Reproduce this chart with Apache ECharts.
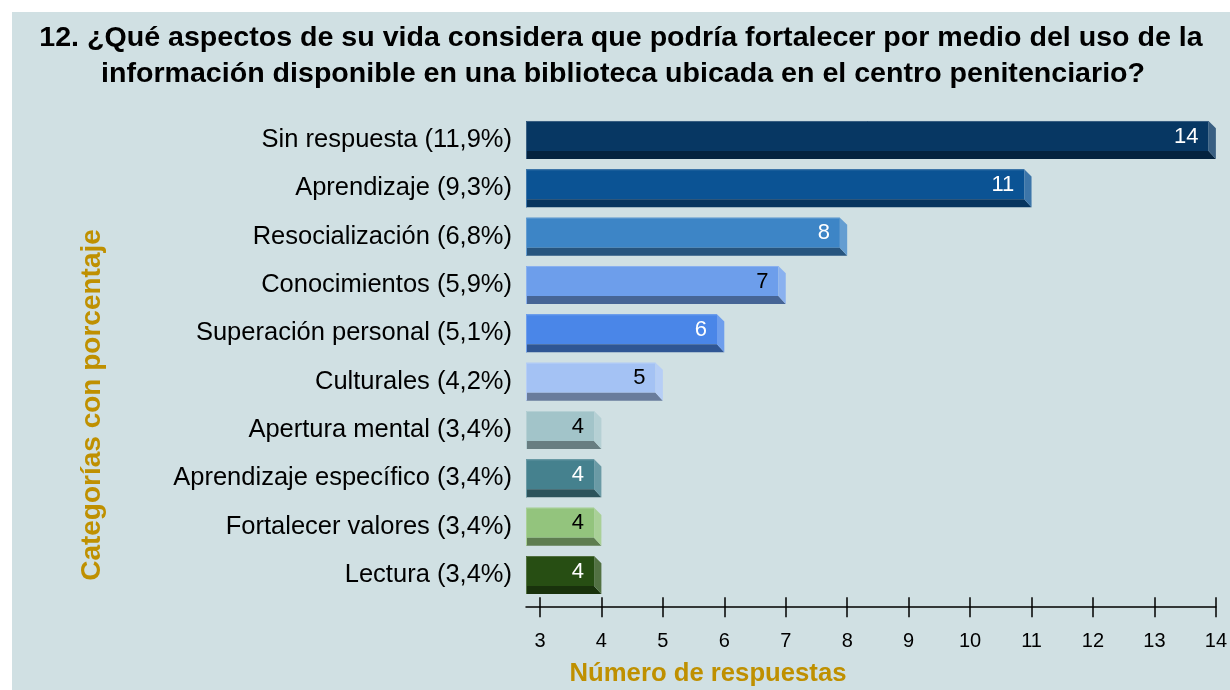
<!DOCTYPE html>
<html>
<head>
<meta charset="utf-8">
<script src="https://cdn.jsdelivr.net/npm/echarts@6/dist/echarts.min.js"></script>
<style>
  html, body { margin: 0; padding: 0; background: #ffffff; }
  #chart { position: absolute; left: 12px; top: 12px; width: 1218px; height: 678px; }
</style>
</head>
<body>
<div id="chart"></div>
<script>
// ---- data ----
const categories = [
  'Sin respuesta (11,9%)',
  'Aprendizaje (9,3%)',
  'Resocialización (6,8%)',
  'Conocimientos (5,9%)',
  'Superación personal (5,1%)',
  'Culturales (4,2%)',
  'Apertura mental (3,4%)',
  'Aprendizaje específico (3,4%)',
  'Fortalecer valores (3,4%)',
  'Lectura (3,4%)'
];
const values = [14, 11, 8, 7, 6, 5, 4, 4, 4, 4];
const xTicks = [3, 4, 5, 6, 7, 8, 9, 10, 11, 12, 13, 14];
const titleLines = [
  '12. ¿Qué aspectos de su vida considera que podría fortalecer por medio del uso de la',
  'información disponible en una biblioteca ubicada en el centro penitenciario?'
];
const xTitle = 'Número de respuestas';
const yTitle = 'Categorías con porcentaje';

// ---- styles ----
const palette = ['#073763', '#0b5394', '#3d85c6', '#6d9eeb', '#4a86e8', '#a4c2f4', '#a2c4c9', '#45818e', '#93c47d', '#274e13'];
const labelColors = ['#fff', '#fff', '#fff', '#000', '#fff', '#000', '#000', '#fff', '#000', '#fff'];
const FONT = "'Liberation Sans', Arial, sans-serif";
const X_MIN = 2.773, X_MAX = 14;

function hexToRgb(h) { h = h.replace('#', ''); return [0, 2, 4].map(i => parseInt(h.substr(i, 2), 16)); }
function rgb(a) { return 'rgb(' + a.map(v => Math.round(v)).join(',') + ')'; }
function darker(h) { return rgb(hexToRgb(h).map(v => v * 0.64)); }
function lighter(h) { return rgb(hexToRgb(h).map(v => v + (255 - v) * 0.2)); }

function renderItem(params, api) {
  const i = params.dataIndex;
  const end = api.coord([api.value(0), api.value(1)]);
  const base = api.coord([X_MIN, api.value(1)]);
  const band = api.size([0, 1])[1];
  const h = band * 0.786;
  const dx = 7.3, dy = 8;
  const x0 = base[0], x2 = end[0], x1 = x2 - dx;
  const yt = end[1] - h / 2, yb = end[1] + h / 2, yf = yb - dy;
  const c = palette[i % palette.length];
  return {
    type: 'group',
    children: [
      { type: 'rect', shape: { x: x0, y: yt, width: x1 - x0, height: yf - yt }, style: { fill: c } },
      { type: 'polygon', shape: { points: [[x0, yf], [x1, yf], [x2, yb], [x0, yb]] }, style: { fill: darker(c) } },
      { type: 'polygon', shape: { points: [[x1, yt], [x2, yt + dy * 0.9], [x2, yb], [x1, yf]] }, style: { fill: lighter(c) } },
      { type: 'polyline', shape: { points: [[x0 + 0.5, yb], [x0 + 0.5, yt + 0.5], [x1, yt + 0.5]] }, style: { stroke: lighter(c), lineWidth: 1, fill: null } },
      { type: 'text', x: x1 - 10, y: (yt + yf) / 2 + 0.5,
        style: { text: String(api.value(0)), align: 'right', verticalAlign: 'middle', fill: labelColors[i], font: '22px ' + FONT } }
    ]
  };
}

const chart = echarts.init(document.getElementById('chart'), null, { renderer: 'canvas' });
const axisCommon = { type: 'value', min: X_MIN, max: X_MAX, position: 'bottom', offset: 8, splitLine: { show: false } };
chart.setOption({
  backgroundColor: '#d0e0e3',
  animation: false,
  grid: { left: 514, right: 12.5, top: 103.8, bottom: 90.8, containLabel: false },
  xAxis: [
    Object.assign({}, axisCommon, {
      axisLine: { show: true, lineStyle: { color: '#000', width: 1.5 } },
      axisTick: { show: true, inside: true, length: 10, lineStyle: { color: '#000', width: 1.5 }, customValues: xTicks },
      axisLabel: { show: true, customValues: xTicks, margin: 24, color: '#000', fontSize: 20, fontFamily: FONT }
    }),
    Object.assign({}, axisCommon, {
      axisLine: { show: false },
      axisTick: { show: true, inside: false, length: 10, lineStyle: { color: '#000', width: 1.5 }, customValues: xTicks },
      axisLabel: { show: false }
    })
  ],
  yAxis: {
    type: 'category', data: categories, inverse: true,
    axisLine: { show: false }, axisTick: { show: false }, splitLine: { show: false },
    axisLabel: { margin: 14, color: '#000', fontSize: 25.5, fontFamily: FONT, padding: [0, 0, 8, 0] }
  },
  series: [{
    type: 'custom', renderItem: renderItem, xAxisIndex: 0, yAxisIndex: 0,
    encode: { x: 0, y: 1 },
    data: values.map((v, i) => [v, i]),
    clip: false
  }],
  graphic: [
    { type: 'text', x: 609, y: 26.5, scaleX: 1.04, style: { text: titleLines[0], align: 'center', verticalAlign: 'middle', fill: '#000', font: 'bold 27.5px ' + FONT } },
    { type: 'text', x: 611, y: 62.5, scaleX: 1.04, style: { text: titleLines[1], align: 'center', verticalAlign: 'middle', fill: '#000', font: 'bold 27.5px ' + FONT } },
    { type: 'text', x: 696, y: 662, style: { text: xTitle, align: 'center', verticalAlign: 'middle', fill: '#bf9000', font: 'bold 25.7px ' + FONT } },
    { type: 'text', x: 80, y: 393, rotation: Math.PI / 2, style: { text: yTitle, align: 'center', verticalAlign: 'middle', fill: '#bf9000', font: 'bold 28px ' + FONT } }
  ]
});
</script>
</body>
</html>
